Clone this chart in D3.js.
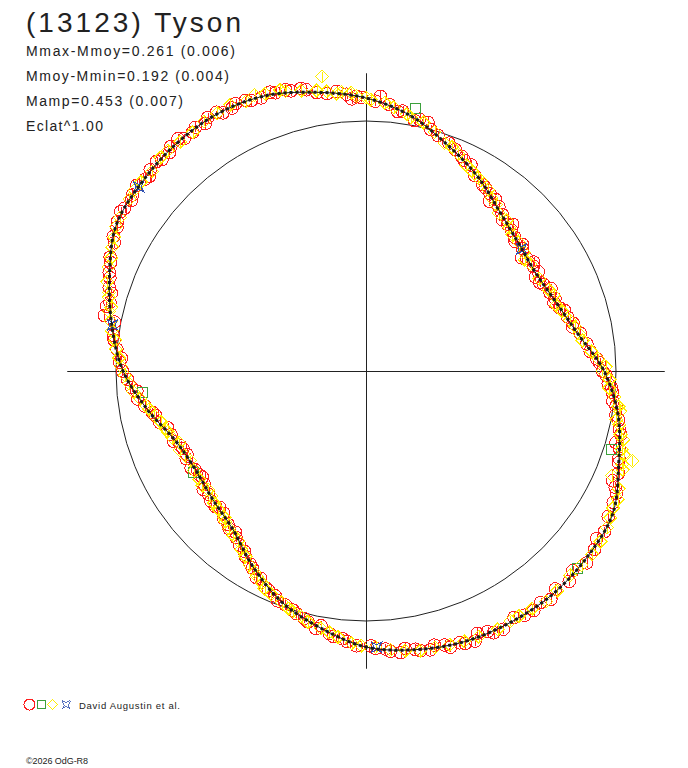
<!DOCTYPE html>
<html>
<head>
<meta charset="utf-8">
<title>(13123) Tyson</title>
<style>
  body { margin: 0; background: #fff; }
  svg { display: block; font-family: "Liberation Sans", Arial, sans-serif; }
  .ref { fill: none; stroke: #222; stroke-width: 1; }
  .model { fill: none; stroke: #1a1a1a; stroke-width: 1; }
  .model-dots { fill: none; stroke: #1a1a1a; stroke-width: 3; stroke-dasharray: 3 3; }
  .mk { shape-rendering: crispEdges; }
</style>
</head>
<body>
<svg width="688" height="768"></svg>
<script src="https://cdn.jsdelivr.net/npm/d3@7"></script>
<script>
// model lightcurve: phase angle (deg, clockwise from top) and relative brightness
var curvePhase = [0,10,20,30,40,50,60,70,80,90,100,110,120,130,140,150,160,170,
                  180,190,200,210,220,230,240,250,260,270,280,290,300,310,320,330,340,350];
var curveFlux = [1.092,1.036,0.960,0.896,0.832,0.796,0.784,0.808,0.860,0.952,1.024,1.076,
                 1.140,1.156,1.164,1.160,1.152,1.132,1.104,1.044,0.984,0.904,0.828,0.800,
                 0.788,0.812,0.888,0.972,1.032,1.092,1.156,1.172,1.184,1.188,1.172,1.132];

// observations [phase deg, relative brightness]
var obsRed = [[2,1.08],[5,1.07],[8,1.05],[12,1.03],[15,1.0],[17,0.985],[22,0.955],[25,0.93],
  [27,0.925],[32,0.88],[35,0.865],[37,0.86],[41,0.83],[44,0.815],[46,0.81],[49,0.79],[52,0.795],
  [55,0.785],[58,0.79],[61,0.775],[64,0.79],[67,0.80],[69,0.81],[72,0.815],[75,0.835],[78,0.845],
  [83,0.89],[88,0.935],[91,0.96],[93,0.97],[95,0.99],[98,1.01],[101,1.03],[104,1.05],[106,1.04],
  [109,1.07],[112,1.09],[115,1.10],[118,1.12],[124,1.15],[128,1.16],[136,1.17],[143,1.16],
  [147,1.165],[152,1.17],[155,1.15],[158,1.165],[161,1.15],[164,1.14],[167,1.145],[170,1.13],
  [173,1.135],[176,1.115],[179,1.10],[182,1.10],[185,1.075],[188,1.06],[191,1.05],[194,1.02],
  [196,1.01],[199,0.99],[202,0.97],[205,0.955],[207,0.93],[211,0.90],[214,0.87],[216,0.86],
  [219,0.83],[222,0.825],[225,0.805],[228,0.81],[232,0.80],[235,0.79],[238,0.785],[241,0.80],
  [245,0.79],[248,0.80],[252,0.82],[256,0.85],[259,0.87],[263,0.92],[266,0.94],[268,0.955],
  [272,0.985],[275,1.0],[278,1.02],[282,1.07],[285,1.06],[288,1.08],[291,1.10],[294,1.12],
  [298,1.145],[301,1.16],[304,1.165],[307,1.17],[311,1.17],[313,1.18],[316,1.175],[319,1.19],
  [322,1.18],[325,1.19],[328,1.195],[331,1.18],[334,1.19],[337,1.175],[342,1.17],[345,1.16],
  [348,1.15],[352,1.12],[356,1.11],[358,1.10],
  [3,1.10],[7,1.045],[11,1.02],[14,1.025],[20,0.97],[24,0.94],[29,0.895],[33,0.875],[36,0.84],
  [39,0.845],[42,0.815],[45,0.83],[48,0.80],[51,0.805],[54,0.77],[57,0.80],[60,0.795],[63,0.78],
  [66,0.81],[70,0.80],[73,0.83],[77,0.85],[80,0.87],[85,0.90],[87,0.925],[90,0.945],[94,0.985],
  [97,0.995],[100,1.015],[103,1.04],[107,1.06],[110,1.075],[114,1.08],[116,1.115],[121,1.13],
  [126,1.14],[131,1.17],[134,1.15],[139,1.155],[141,1.175],[145,1.17],[149,1.15],[154,1.165],
  [157,1.14],[160,1.16],[163,1.155],[166,1.13],[169,1.14],[172,1.12],[175,1.125],[178,1.11],
  [184,1.085],[187,1.07],[190,1.035],[193,1.03],[197,1.0],[201,0.985],[204,0.96],[208,0.935],
  [210,0.91],[213,0.885],[218,0.845],[221,0.835],[224,0.82],[227,0.80],[230,0.81],[234,0.805],
  [237,0.78],[240,0.79],[244,0.80],[247,0.795],[250,0.82],[254,0.825],[258,0.86],[261,0.895],
  [265,0.92],[270,0.975],[273,0.98],[277,1.015],[281,1.025],[284,1.07],[287,1.065],[290,1.09],
  [293,1.11],[297,1.13],[300,1.15],[303,1.17],[306,1.16],[309,1.18],[312,1.165],[315,1.185],
  [318,1.175],[321,1.195],[324,1.18],[327,1.18],[330,1.195],[333,1.18],[336,1.185],[339,1.17],
  [341,1.18],[344,1.17],[347,1.16],[350,1.13],[354,1.125],[357,1.09],[359,1.095]];
var obsGreen = [[10.6,1.07],[107.7,1.027],[133.1,1.155],[264.7,0.90],[239.7,0.803]];
var obsYellow = [[1,1.085],[4,1.075],[9,1.04],[13,1.02],[19,0.965],[23,0.945],[28,0.905],
  [31,0.89],[34,0.875],[38,0.845],[43,0.825],[47,0.80],[53,0.79],[57,0.785],[66,0.80],[71,0.805],
  [76,0.84],[80,0.865],[85,0.905],[89,0.96],[92,0.975],[96,1.0],[99,1.03],[102,1.035],[105,1.065],
  [108,1.085],[108.7,1.125],[111,1.10],[113,1.07],[117,1.13],[121,1.14],[126,1.16],[132,1.16],
  [139,1.165],[145,1.16],[150,1.155],[157,1.155],[163,1.145],[169,1.14],[175,1.12],[181,1.10],
  [186,1.07],[190,1.045],[195,1.015],[198,1.0],[203,0.97],[206,0.945],[209,0.92],[213,0.885],
  [217,0.85],[221,0.835],[224,0.815],[229,0.805],[233,0.79],[237,0.795],[243,0.79],[247,0.81],
  [251,0.82],[254,0.835],[258,0.865],[261,0.89],[265,0.935],[269,0.965],[273,0.99],[277,1.01],
  [281,1.04],[284,1.05],[287,1.075],[292,1.11],[296,1.13],[300,1.155],[306,1.17],[310,1.175],
  [318,1.185],[324,1.18],[327,1.19],[333,1.195],[340,1.18],[344,1.165],[350,1.14],[351.5,1.19],
  [354,1.115],[357,1.115],
  [0,1.095],[6,1.06],[10,1.03],[16,0.995],[21,0.96],[26,0.915],[30,0.895],[36,0.855],[40,0.825],
  [45,0.81],[50,0.80],[55,0.775],[62,0.785],[68,0.81],[73,0.82],[78,0.855],[82,0.875],[87,0.93],
  [90,0.945],[94,0.975],[98,1.02],[101,1.02],[104,1.05],[107,1.07],[110,1.09],[115,1.115],
  [119,1.13],[123,1.15],[129,1.165],[135,1.155],[142,1.17],[148,1.155],[153,1.16],[160,1.15],
  [166,1.14],[172,1.13],[178,1.105],[183,1.09],[188,1.055],[193,1.03],[197,1.005],[200,0.985],
  [205,0.96],[208,0.93],[211,0.905],[215,0.87],[219,0.845],[223,0.825],[227,0.81],[231,0.795],
  [235,0.80],[240,0.795],[245,0.80],[249,0.80],[253,0.83],[256,0.845],[260,0.88],[263,0.91],
  [267,0.95],[271,0.98],[275,1.005],[279,1.03],[283,1.055],[286,1.07],[289,1.095],[294,1.115],
  [298,1.14],[302,1.16],[308,1.175],[313,1.17],[316,1.185],[321,1.18],[330,1.19],[336,1.18],
  [338,1.19],[343,1.175],[347,1.15],[352,1.13],[355,1.12],[358,1.10]];
var obsBlue = [[280.3,1.03],[309,1.17],[51.9,0.791],[177.8,1.106]];

var titleLines = ["Mmax-Mmoy=0.261 (0.006)", "Mmoy-Mmin=0.192 (0.004)",
                  "Mamp=0.453 (0.007)", "Eclat^1.00"];

var svg = d3.select("svg"),
    cx = 366, cy = 371,
    g = svg.append("g").attr("transform", "translate(" + cx + "," + cy + ")");

var r = d3.scaleLinear().domain([0, 1]).range([0, 250]);
var rad = function(deg) { return deg * Math.PI / 180; };
var pos = function(d) { return d3.pointRadial(rad(d[0]), r(d[1])); };

var RED = "#ff1e1e", YEL = "#ffee00", GRN = "#3ca03c", BLU = "#3050b0";

// axes cross and mean brightness circle
var ext = r(1.195);
g.append("line").attr("class", "ref").attr("x1", -ext).attr("x2", ext).attr("y1", 0.5).attr("y2", 0.5);
g.append("line").attr("class", "ref").attr("x1", 0.5).attr("x2", 0.5).attr("y1", -ext + 1).attr("y2", ext - 1);
g.append("circle").attr("class", "ref").attr("r", r(1));

// markers
function errBars(data, color) {
  g.append("g").attr("class", "mk").selectAll("line").data(data).enter().append("line")
    .attr("x1", function(d) { return Math.round(pos(d)[0]) + 0.5; })
    .attr("x2", function(d) { return Math.round(pos(d)[0]) + 0.5; })
    .attr("y1", function(d) { return pos(d)[1] - 5; })
    .attr("y2", function(d) { return pos(d)[1] + 5; })
    .attr("stroke", color).attr("stroke-width", 1);
}

errBars(obsRed, RED);
g.append("g").attr("class", "mk").selectAll("circle").data(obsRed).enter().append("circle")
  .attr("cx", function(d) { return pos(d)[0]; })
  .attr("cy", function(d) { return pos(d)[1]; })
  .attr("r", 6.3).attr("fill", "none").attr("stroke", RED).attr("stroke-width", 1);

g.append("g").attr("class", "mk").selectAll("rect").data(obsGreen).enter().append("rect")
  .attr("x", function(d) { return Math.round(pos(d)[0]) - 4.5; })
  .attr("y", function(d) { return Math.round(pos(d)[1]) - 4.5; })
  .attr("width", 10).attr("height", 10)
  .attr("fill", "none").attr("stroke", GRN).attr("stroke-width", 1);

errBars(obsYellow, YEL);
g.append("g").attr("class", "mk").selectAll("path").data(obsYellow).enter().append("path")
  .attr("transform", function(d) { return "translate(" + pos(d) + ")"; })
  .attr("d", "M0,-6.5L6.5,0L0,6.5L-6.5,0Z")
  .attr("fill", "none").attr("stroke", YEL).attr("stroke-width", 1);

var star = "M-5,-5L0,-2.5L5,-5L2.5,0L5,5L0,2.5L-5,5L-2.5,0Z";
g.append("g").attr("class", "mk").selectAll("path").data(obsBlue).enter().append("path")
  .attr("transform", function(d) { return "translate(" + pos(d) + ")"; })
  .attr("d", star)
  .attr("fill", "none").attr("stroke", BLU).attr("stroke-width", 1);

// model curve on top
var line = d3.lineRadial()
  .angle(function(d, i) { return rad(curvePhase[i]); })
  .radius(function(d) { return r(d); })
  .curve(d3.curveCardinalClosed);
g.append("path").datum(curveFlux).attr("class", "model").attr("d", line);
g.append("path").datum(curveFlux).attr("class", "model-dots").attr("d", line);

// texts
svg.append("text").attr("x", 26).attr("y", 32)
  .attr("font-size", 28).attr("fill", "#222")
  .attr("textLength", 215).attr("lengthAdjust", "spacing")
  .text("(13123) Tyson");

var lineW = [209, 203, 157, 77];
svg.selectAll(".info").data(titleLines).enter().append("text")
  .attr("class", "info")
  .attr("x", 26)
  .attr("y", function(d, i) { return 56 + i * 25; })
  .attr("font-size", 14).attr("fill", "#222")
  .attr("textLength", function(d, i) { return lineW[i]; })
  .attr("lengthAdjust", "spacing")
  .text(function(d) { return d; });

// legend
var lg = svg.append("g").attr("class", "mk").attr("transform", "translate(0,704.5)");
lg.append("circle").attr("cx", 29.5).attr("r", 5.5).attr("fill", "none").attr("stroke", RED);
lg.append("rect").attr("x", 37.5).attr("y", -4).attr("width", 8).attr("height", 8)
  .attr("fill", "none").attr("stroke", GRN);
lg.append("path").attr("transform", "translate(52.5,0)").attr("d", "M0,-5L5,0L0,5L-5,0Z")
  .attr("fill", "none").attr("stroke", YEL);
lg.append("path").attr("transform", "translate(66,0) scale(0.8)").attr("d", star)
  .attr("fill", "none").attr("stroke", BLU);
svg.append("text").attr("x", 79).attr("y", 708.5).attr("font-size", 9.5).attr("fill", "#222")
  .attr("textLength", 101).attr("lengthAdjust", "spacing")
  .text("David Augustin et al.");

svg.append("text").attr("x", 26).attr("y", 764).attr("font-size", 9).attr("fill", "#222")
  .attr("textLength", 62).attr("lengthAdjust", "spacing")
  .text("©2026 OdG-R8");
</script>
</body>
</html>
